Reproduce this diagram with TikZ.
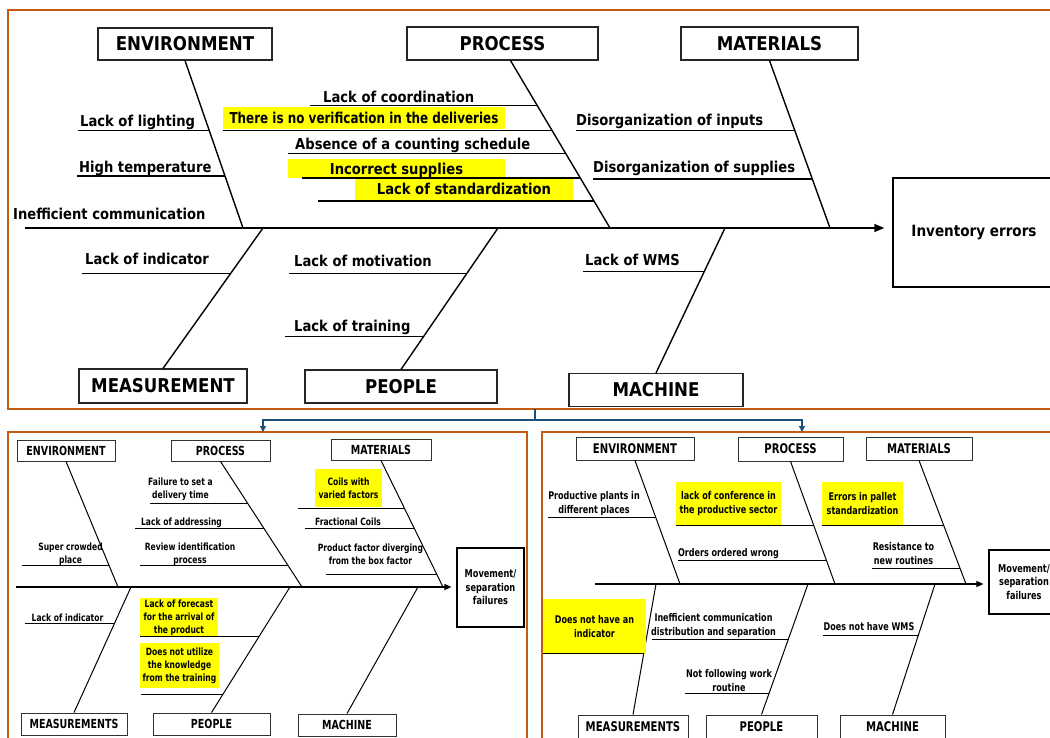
\documentclass[tikz,border=0pt]{standalone}
\usepackage{fontspec}
\newfontfamily\bigfont{DejaVu Sans}[FakeStretch=0.875]
\newfontfamily\smallfont{DejaVu Sans}[FakeStretch=0.76]
\usetikzlibrary{arrows.meta,calc}
\definecolor{frameorange}{RGB}{197,90,17}
\definecolor{linkblue}{RGB}{31,78,121}
\definecolor{hlyellow}{RGB}{255,255,0}

\tikzset{
  frame/.style={draw=frameorange, line width=2.6pt},
  link/.style={draw=linkblue, line width=1.4pt},
  bone/.style={line width=1.4pt},
  twig/.style={line width=1.3pt},
  spine/.style={line width=1.5pt, -{Triangle[length=10pt,width=8pt]}},
  cat/.style={draw=black!85, fill=white, line width=1.1pt, inner sep=0pt,
    font={\bigfont\bfseries\fontsize{19}{22}\selectfont}},
  lbl/.style={inner sep=0pt, text height=11pt, text depth=0pt,
    font={\bigfont\bfseries\fontsize{15}{18}\selectfont}},
  hl/.style={lbl, fill=hlyellow},
  effbox/.style={draw, fill=white, line width=1.4pt, inner sep=0pt,
    font={\bigfont\bfseries\fontsize{15.5}{18}\selectfont}},
  % lower panels
  lbone/.style={line width=1pt},
  lspine/.style={line width=1.2pt, -{Triangle[length=7pt,width=6pt]}},
  lcat/.style={draw=black!80, fill=white, line width=0.9pt, inner sep=0pt,
    font={\smallfont\bfseries\fontsize{12.5}{15}\selectfont}},
  rcat/.style={lcat, font={\smallfont\bfseries\fontsize{13.3}{16}\selectfont}},
  llbl/.style={inner sep=0pt, text height=7.3pt, text depth=0pt,
    font={\smallfont\bfseries\fontsize{10}{12.8}\selectfont}},
  lml/.style={inner sep=0pt, align=center,
    font={\smallfont\bfseries\fontsize{10}{12.8}\selectfont}},
  rlbl/.style={llbl, text height=7.7pt,
    font={\smallfont\bfseries\fontsize{10.6}{14}\selectfont}},
  rml/.style={lml, font={\smallfont\bfseries\fontsize{10.6}{14}\selectfont}},
  leff/.style={draw, fill=white, line width=1.2pt, inner sep=0pt, align=center,
    font={\smallfont\bfseries\fontsize{10.8}{13.5}\selectfont}},
}

\begin{document}
\begin{tikzpicture}[x=1pt,y=-1pt]
    \fill[white] (0,0) rectangle (1050,738);
    \useasboundingbox (0,0) rectangle (1050,738);

    % frames and the link between them
    \draw[frame] (8,10) rectangle (1065,409);
    \draw[frame] (8,432) rectangle (527,760);
    \draw[frame] (542,432) rectangle (1065,760);
    \coordinate (topfr) at (535,409);
    \coordinate (hub) at (535,420);
    \coordinate (llfr) at (263,432);
    \coordinate (lrfr) at (802,432);
    \draw[link] (topfr) -- (hub);
    \draw[link,-{Triangle[length=6pt,width=6pt]}] (hub) -| (llfr);
    \draw[link,-{Triangle[length=6pt,width=6pt]}] (hub) -| (lrfr);

    % ---- main diagram ----
    \node[cat, minimum width=174pt, minimum height=32pt] (env) at (185,44) {ENVIRONMENT};
    \node[cat, minimum width=191pt, minimum height=33pt] (proc) at (502.5,43.5) {PROCESS};
    \node[cat, minimum width=177pt, minimum height=33pt] (mat) at (769.5,43.5) {MATERIALS};
    \node[cat, minimum width=168pt, minimum height=34pt] (meas) at (163,386) {MEASUREMENT};
    \node[cat, minimum width=192pt, minimum height=33pt] (ppl) at (401,386.5) {PEOPLE};
    \node[cat, minimum width=174pt, minimum height=33pt] (mach) at (656,390) {MACHINE};
    \node[effbox, minimum width=162pt, minimum height=109pt] (eff) at (974,232.5) {Inventory errors};

    \coordinate (sp0) at (25,228);
    \draw[spine] (sp0) -- ($(sp0 -| eff.west)+(-8,0)$);

    \coordinate (eS) at (243,228);
    \coordinate (pT) at ([xshift=8pt]proc.south);
    \coordinate (pS) at (610,228);
    \coordinate (mS) at (830,228);
    \coordinate (msS) at (263,228);
    \coordinate (ppS) at (498,228);
    \coordinate (mcS) at (725,228);
    \draw[bone] (env.south) -- (eS);
    \draw[bone] (pT) -- (pS);
    \draw[bone] (mat.south) -- (mS);
    \draw[bone] (meas.north) -- (msS);
    \draw[bone] (ppl.north) -- (ppS);
    \draw[bone] (mach.north) -- (mcS);

    % environment
    \draw[twig] ($(env.south)!0.417!(eS)$) -- ++(-131,0);
    \draw[twig] ($(env.south)!0.690!(eS)$) -- ++(-148,0);
    \node[lbl, anchor=west] (envA) at (80,121) {Lack of lighting};
    \node[lbl, anchor=west] (envB) at (79,167) {High temperature};
    \node[lbl, anchor=west] (envC) at (13,214) {Inefficient communication};

    % process
    \node[hl, minimum width=282pt, minimum height=22pt] (procB) at (364,118)
        {\scalebox{0.91}[1]{There is no verification in the deliveries}};
    \node[hl, minimum width=217pt, minimum height=19pt] (procD) at (396.5,169) {Incorrect supplies};
    \node[hl, minimum width=218pt, minimum height=21pt] (procE) at (464,189.5) {Lack of standardization};
    \draw[twig] ($(pT)!0.268!(pS)$) -- ++(-227,0);
    \draw[twig] ($(pT)!0.417!(pS)$) -- ++(-329,0);
    \draw[twig] ($(pT)!0.554!(pS)$) -- ++(-278,0);
    \draw[twig] ($(pT)!0.702!(pS)$) -- ++(-278,0);
    \draw[twig] ($(pT)!0.839!(pS)$) -- ++(-276,0);
    \node[lbl, anchor=west] (procA) at (323,97) {Lack of coordination};
    \node[lbl, anchor=west] (procC) at (295,144) {Absence of a counting schedule};

    % materials
    \draw[twig] ($(mat.south)!0.417!(mS)$) -- ++(-219,0);
    \draw[twig] ($(mat.south)!0.708!(mS)$) -- ++(-219,0);
    \node[lbl, anchor=west] (matA) at (576,120) {Disorganization of inputs};
    \node[lbl, anchor=west] (matB) at (593,167) {Disorganization of supplies};

    % measurement, people, machine
    \draw[twig] ($(meas.north)!0.674!(msS)$) -- ++(-148,0);
    \node[lbl, anchor=west] (measA) at (85,259) {Lack of indicator};
    \draw[twig] ($(ppl.north)!0.676!(ppS)$) -- ++(-178,0);
    \draw[twig] ($(ppl.north)!0.232!(ppS)$) -- ++(-139,0);
    \node[lbl, anchor=west] (pplA) at (294,261) {Lack of motivation};
    \node[lbl, anchor=west] (pplB) at (294,326) {Lack of training};
    \draw[twig] ($(mach.north)!0.698!(mcS)$) -- ++(-121,0);
    \node[lbl, anchor=west] (machA) at (585,260) {Lack of WMS};

    % ---- lower left diagram ----
    \node[lcat, minimum width=98pt, minimum height=21pt] (lenv) at (66,450.5) {ENVIRONMENT};
    \node[lcat, minimum width=99pt, minimum height=21pt] (lproc) at (220.5,450.5) {PROCESS};
    \node[lcat, minimum width=100pt, minimum height=21pt] (lmat) at (381,449.5) {MATERIALS};
    \node[lcat, minimum width=106pt, minimum height=22pt] (lmeas) at (74,724) {MEASUREMENTS};
    \node[lcat, minimum width=117pt, minimum height=22pt] (lppl) at (211.5,724) {PEOPLE};
    \node[lcat, minimum width=98pt, minimum height=22pt] (lmach) at (347,725) {MACHINE};
    \node[leff, minimum width=67pt, minimum height=79pt] (lef) at (490.5,587.5) {Movement/\\separation\\failures};

    \coordinate (lsp0) at (16,587);
    \draw[lspine] (lsp0) -- ($(lsp0 -| lef.west)+(-5,0)$);
    \coordinate (leS) at (118,587);
    \coordinate (lpS) at (302,587);
    \coordinate (lmS) at (443,587);
    \coordinate (lmsS) at (131,587);
    \coordinate (lppS) at (290,587);
    \coordinate (lmcS) at (418,587);
    \draw[lbone] (lenv.south) -- (leS);
    \draw[lbone] (lproc.south) -- (lpS);
    \draw[lbone] (lmat.south) -- (lmS);
    \draw[lbone] (lmeas.north) -- (lmsS);
    \draw[lbone] (lppl.north) -- (lppS);
    \draw[lbone] (lmach.north) -- (lmcS);

    \node[lml, fill=hlyellow, minimum width=67pt, minimum height=38pt] (lmatA) at (348.5,488) {Coils with\\varied factors};
    \node[lml, fill=hlyellow, minimum width=78pt, minimum height=39pt] (lpplA) at (179,617.5) {Lack of forecast\\for the arrival of\\the product};
    \node[lml, fill=hlyellow, minimum width=79pt, minimum height=45pt] (lpplB) at (179.5,665.5) {Does not utilize\\the knowledge\\from the training};

    \draw[lbone] ($(lenv.south)!0.825!(leS)$) -- ++(-87,0);
    \draw[lbone] ($(lproc.south)!0.333!(lpS)$) -- ++(-98,0);
    \draw[lbone] ($(lproc.south)!0.532!(lpS)$) -- ++(-129,0);
    \draw[lbone] ($(lproc.south)!0.825!(lpS)$) -- ++(-148,0);
    \draw[lbone] ($(lmat.south)!0.378!(lmS)$) -- ++(-106,0);
    \draw[lbone] ($(lmat.south)!0.535!(lmS)$) -- ++(-109,0);
    \draw[lbone] ($(lmat.south)!0.898!(lmS)$) -- ++(-111,0);
    \draw[lbone] ($(lmeas.north)!0.706!(lmsS)$) -- ++(-89,0);
    \draw[lbone] ($(lppl.north)!0.603!(lppS)$) -- ++(-119,0);
    \draw[lbone] ($(lppl.north)!0.143!(lppS)$) -- ++(-82,0);

    \node[lml] (lenvA) at (70.5,554) {Super crowded\\place};
    \node[lml] (lprocA) at (180.5,489) {Failure to set a\\delivery time};
    \node[llbl] (lprocB) at (181.5,522) {Lack of addressing};
    \node[lml] (lprocC) at (190,554) {Review identification\\process};
    \node[llbl] (lmatB) at (348,522) {Fractional Coils};
    \node[lml] (lmatC) at (370.5,554) {Product factor diverging\\from the box factor};
    \node[llbl] (lmeasA) at (67.5,618) {Lack of indicator};

    % ---- lower right diagram ----
    \node[rcat, minimum width=118pt, minimum height=23pt] (renv) at (635,448.5) {ENVIRONMENT};
    \node[rcat, minimum width=105pt, minimum height=24pt] (rproc) at (790.5,449) {PROCESS};
    \node[rcat, minimum width=106pt, minimum height=23pt] (rmat) at (919,448.5) {MATERIALS};
    \node[rcat, minimum width=110pt, minimum height=23pt] (rmeas) at (633,726.5) {MEASUREMENTS};
    \node[rcat, minimum width=111pt, minimum height=23pt] (rppl) at (761.5,726.5) {PEOPLE};
    \node[rcat, minimum width=105pt, minimum height=23pt] (rmach) at (892.5,726.5) {MACHINE};
    \node[leff, minimum width=70pt, minimum height=64pt] (ref) at (1024,582) {Movement/\\separation\\failures};

    \coordinate (rsp0) at (595,584);
    \draw[lspine] (rsp0) -- ($(rsp0 -| ref.west)+(-5,0)$);
    \coordinate (reS) at (680,584);
    \coordinate (rpS) at (835,584);
    \coordinate (rmS) at (966,584);
    \coordinate (rmsS) at (656,584);
    \coordinate (rppS) at (808,584);
    \coordinate (rmcS) at (935,584);
    \draw[lbone] (renv.south) -- (reS);
    \draw[lbone] (rproc.south) -- (rpS);
    \draw[lbone] (rmat.south) -- (rmS);
    \draw[lbone] (rmeas.north) -- (rmsS);
    \draw[lbone] (rppl.north) -- (rppS);
    \draw[lbone] (rmach.north) -- (rmcS);

    \node[rml, fill=hlyellow, minimum width=105pt, minimum height=43pt] (rprocA) at (728.5,503.5) {lack of conference in\\the productive sector};
    \node[rml, fill=hlyellow, minimum width=81pt, minimum height=43pt] (rmatA) at (862.5,503.5) {Errors in pallet\\standardization};
    \node[rml, fill=hlyellow, minimum width=103pt, minimum height=55pt] (rmeasA) at (594.5,626.5) {Does not have an\\indicator};

    \draw[lbone] ($(renv.south)!0.46!(reS)$) -- ++(-108,0);
    \draw[lbone] ($(rproc.south)!0.520!(rpS)$) -- ++(-138,0);
    \draw[lbone] ($(rproc.south)!0.805!(rpS)$) -- ++(-148,0);
    \draw[lbone] ($(rmat.south)!0.524!(rmS)$) -- ++(-122,0);
    \draw[lbone] ($(rmat.south)!0.871!(rmS)$) -- ++(-88,0);
    \draw[lbone] ($(rmeas.north)!0.466!(rmsS)$) -- ++(-101,0);
    \draw[lbone] ($(rppl.north)!0.573!(rppS)$) -- ++(-136,0);
    \draw[lbone] ($(rppl.north)!0.160!(rppS)$) -- ++(-84,0);
    \draw[lbone] ($(rmach.north)!0.603!(rmcS)$) -- ++(-95,0);

    \node[rml] (renvA) at (594,503.5) {Productive plants in\\different places};
    \node[rlbl] (rprocB) at (728.5,553) {Orders ordered wrong};
    \node[rml] (rmatB) at (903.5,554) {Resistance to\\new routines};
    \node[rml] (rpplA) at (713.5,626) {Inefficient communication\\distribution and separation};
    \node[rml] (rpplB) at (729,681) {Not following work\\routine};
    \node[rlbl] (rmachA) at (869,627) {Does not have WMS};
\end{tikzpicture}
\end{document}
